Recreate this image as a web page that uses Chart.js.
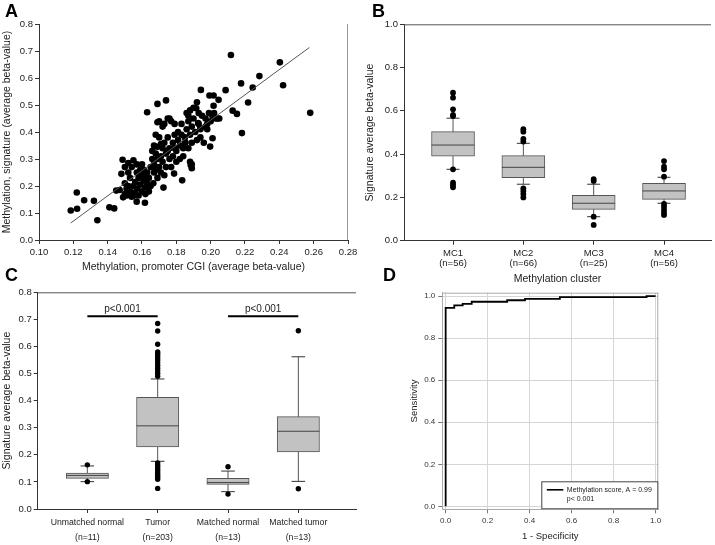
<!DOCTYPE html>
<html>
<head>
<meta charset="utf-8">
<script src="https://cdn.jsdelivr.net/npm/chart.js@4.4.1/dist/chart.umd.min.js"></script>
<style>
  html, body { margin: 0; padding: 0; background: #fff; }
  #fig { position: relative; width: 715px; height: 545px; overflow: hidden; }
  #fig canvas { position: absolute; }
  .lbl { position: absolute; font: bold 18px "Liberation Sans", Arial, sans-serif; line-height: 1; color: #000; }
</style>
</head>
<body>
<div id="fig">
  <canvas id="cA" width="360" height="275" style="left:0;top:0"></canvas>
  <canvas id="cB" width="360" height="290" style="left:355px;top:0"></canvas>
  <canvas id="cC" width="360" height="285" style="left:0;top:260px"></canvas>
  <canvas id="cD" width="360" height="285" style="left:355px;top:260px"></canvas>
  <div class="lbl" style="left:5px;top:1.5px">A</div>
  <div class="lbl" style="left:372px;top:1.5px">B</div>
  <div class="lbl" style="left:5px;top:266px">C</div>
  <div class="lbl" style="left:383px;top:266px">D</div>
</div>
<script>
// ── A: promoter CGI vs signature methylation ──
const scatterPts = [
  [0.1185,0.109],[0.122,0.176],[0.1222,0.116],[0.1263,0.147],[0.132,0.145],[0.134,0.073],
  [0.141,0.121],[0.1438,0.117],[0.145,0.183],[0.1487,0.297],[0.163,0.473],[0.169,0.504],
  [0.174,0.517],[0.169,0.436],[0.1943,0.556],[0.1993,0.535],[0.2017,0.535],[0.2087,0.555],
  [0.2118,0.685],[0.2128,0.479],[0.2153,0.467],[0.2177,0.58],[0.2182,0.396],[0.2218,0.509],
  [0.2245,0.565],[0.2284,0.607],[0.2403,0.658],[0.2422,0.573],[0.258,0.471],[0.2046,0.519],
  [0.2017,0.497],[0.2011,0.377],[0.1997,0.346],[0.1834,0.221],[0.1725,0.194],[0.1787,0.246],
  [0.1884,0.278],[0.189,0.266],[0.1569,0.142],[0.1617,0.138],[0.1666,0.21],
  [0.148,0.245],[0.150,0.21],[0.150,0.17],[0.151,0.19],[0.151,0.165],[0.152,0.2],[0.152,0.285],
  [0.153,0.18],[0.153,0.23],[0.154,0.27],[0.154,0.16],[0.155,0.2],[0.155,0.295],[0.156,0.215],
  [0.156,0.175],[0.157,0.25],[0.157,0.19],[0.158,0.165],[0.158,0.23],[0.159,0.26],[0.159,0.205],
  [0.160,0.18],[0.160,0.24],[0.161,0.22],[0.161,0.26],[0.162,0.195],[0.162,0.17],[0.163,0.25],
  [0.163,0.21],[0.164,0.18],[0.164,0.23],[0.165,0.27],[0.165,0.2],[0.152,0.25],[0.150,0.27],
  [0.157,0.28],[0.160,0.28],[0.155,0.165],[0.162,0.235],[0.147,0.185],[0.149,0.158],
  [0.166,0.3],[0.166,0.33],[0.167,0.28],[0.167,0.25],[0.168,0.32],[0.168,0.26],[0.169,0.3],
  [0.169,0.345],[0.170,0.27],[0.170,0.38],[0.171,0.31],[0.171,0.25],[0.172,0.34],[0.172,0.29],
  [0.173,0.43],[0.173,0.36],[0.174,0.27],[0.174,0.32],[0.175,0.45],[0.175,0.38],[0.176,0.3],
  [0.176,0.34],[0.177,0.44],[0.177,0.27],[0.178,0.36],[0.178,0.31],[0.179,0.39],[0.179,0.43],
  [0.180,0.33],[0.180,0.29],[0.181,0.37],[0.181,0.4],[0.182,0.35],[0.182,0.3],[0.183,0.39],
  [0.183,0.43],[0.184,0.34],[0.184,0.31],[0.185,0.38],[0.185,0.36],[0.168,0.39],[0.170,0.44],
  [0.172,0.42],[0.176,0.45],[0.169,0.23],[0.173,0.24],[0.167,0.35],[0.171,0.355],[0.175,0.33],
  [0.179,0.34],[0.186,0.41],[0.186,0.47],[0.187,0.44],[0.187,0.34],[0.188,0.48],[0.188,0.39],
  [0.189,0.42],[0.189,0.36],[0.190,0.49],[0.190,0.45],[0.191,0.4],[0.192,0.51],[0.192,0.37],
  [0.193,0.47],[0.193,0.43],[0.194,0.38],[0.195,0.46],[0.196,0.36],[0.197,0.42],[0.197,0.45],
  [0.198,0.41],[0.199,0.47],[0.200,0.44],[0.201,0.46],[0.203,0.45],[0.202,0.47],[0.204,0.45],
  [0.205,0.45],[0.188,0.29],[0.189,0.28],[0.187,0.46],[0.194,0.41],[0.198,0.43],[0.1853,0.361],
  [0.194,0.414],[0.1927,0.433],[0.1916,0.488]
];
const fitX = [0.1185, 0.2575];
const fitY = [0.063, 0.713];
const ticksAx = [0.10,0.12,0.14,0.16,0.18,0.20,0.22,0.24,0.26,0.28];
const ticksAy = [0,0.1,0.2,0.3,0.4,0.5,0.6,0.7,0.8];

// ── B: methylation clusters ──
const mcLabels = [['MC1','(n=56)'],['MC2','(n=66)'],['MC3','(n=25)'],['MC4','(n=56)']];
const mcQ1  = [0.391, 0.291, 0.145, 0.191];
const mcMed = [0.442, 0.339, 0.173, 0.230];
const mcQ3  = [0.504, 0.393, 0.210, 0.265];
const mcLo  = [0.330, 0.261, 0.111, 0.173];
const mcHi  = [0.566, 0.450, 0.261, 0.293];
const mcOut = [
  [0.684,0.661,0.607,0.581,0.576,0.330,0.268,0.258,0.247],
  [0.515,0.504,0.470,0.458,0.242,0.230,0.216,0.200],
  [0.285,0.276,0.111,0.073],
  [0.368,0.342,0.330,0.296,0.170,0.157,0.142,0.129,0.119]
];
const ticksBy = [0,0.2,0.4,0.6,0.8,1.0];

// ── C: normal vs tumor ──
const grpLabels = [['Unmatched normal','','(n=11)'],['Tumor','','(n=203)'],['Matched normal','','(n=13)'],['Matched tumor','','(n=13)']];
const grpQ1  = [0.113, 0.229, 0.091, 0.211];
const grpMed = [0.124, 0.307, 0.098, 0.287];
const grpQ3  = [0.133, 0.412, 0.113, 0.341];
const grpLo  = [0.101, 0.176, 0.064, 0.102];
const grpHi  = [0.159, 0.480, 0.140, 0.562];
const grpOut = [
  [0.163,0.101],
  [0.685,0.657,0.608,0.580,0.573,0.566,0.558,0.550,0.540,0.530,0.520,0.510,0.500,0.490,
   0.170,0.162,0.155,0.147,0.140,0.132,0.124,0.117,0.110,0.076],
  [0.156,0.055],
  [0.658,0.075]
];
const sigPairs = [[1,2],[3,4]];
const sigLevel = 0.712;
const ticksCy = [0,0.1,0.2,0.3,0.4,0.5,0.6,0.7,0.8];

// ── D: ROC ──
const rocFpr = [0,0,0.041,0.041,0.081,0.081,0.124,0.124,0.293,0.293,0.378,0.378,0.544,0.544,0.957,0.957,1.0];
const rocTpr = [0,0.944,0.944,0.956,0.956,0.963,0.963,0.973,0.973,0.98,0.98,0.987,0.987,0.995,0.995,1.0,1.0];
const ticksD = [0,0.2,0.4,0.6,0.8,1.0];

const FONT = '"Liberation Sans", Arial, sans-serif';
const TXT = '#222';

const framePlugin = {
  id: 'frame',
  afterDraw(chart, args, opts) {
    const { ctx, chartArea: a } = chart;
    ctx.save();
    ctx.strokeStyle = opts.color || '#333';
    ctx.lineWidth = 1;
    ctx.beginPath();
    (opts.sides || []).forEach(s => {
      if (s === 'top')   { ctx.moveTo(a.left, a.top + 0.5); ctx.lineTo(a.right, a.top + 0.5); }
      if (s === 'right') { ctx.moveTo(a.right - 0.5, a.top); ctx.lineTo(a.right - 0.5, a.bottom); }
    });
    ctx.stroke();
    ctx.restore();
  }
};

const notesPlugin = {
  id: 'notes',
  afterDraw(chart, args, opts) {
    const { ctx, chartArea: a, scales } = chart;
    (opts.items || []).forEach(it => {
      ctx.save();
      ctx.font = it.font;
      ctx.fillStyle = it.color || TXT;
      ctx.textAlign = it.align || 'left';
      ctx.textBaseline = 'middle';
      let x, y;
      if (it.at) { x = scales.x.getPixelForValue(it.at[0]); y = scales.y.getPixelForValue(it.at[1]) + (it.dy || 0); }
      else { x = a.left + it.dx; y = a.top + it.dy; }
      ctx.fillText(it.text, x, y);
      ctx.restore();
    });
  }
};

const rocLegend = {
  id: 'rocLegend',
  afterDraw(chart) {
    const { ctx, chartArea: a } = chart;
    ctx.save();
    ctx.fillStyle = '#fff';
    ctx.strokeStyle = '#444';
    ctx.lineWidth = 1;
    ctx.fillRect(a.right - 117, a.bottom - 28, 117, 28);
    ctx.strokeRect(a.right - 117 + 0.5, a.bottom - 28 + 0.5, 116, 27);
    ctx.strokeStyle = '#000';
    ctx.lineWidth = 1.6;
    ctx.beginPath();
    ctx.moveTo(a.right - 111.5, a.bottom - 19.5);
    ctx.lineTo(a.right - 95, a.bottom - 19.5);
    ctx.stroke();
    ctx.fillStyle = TXT;
    ctx.font = '7px ' + FONT;
    ctx.textBaseline = 'middle';
    ctx.fillText('Methylation score, A = 0.99', a.right - 91.5, a.bottom - 19.5);
    ctx.fillText('p< 0.001', a.right - 91.5, a.bottom - 10.5);
    ctx.restore();
  }
};

function fixedTicks(list) {
  return s => { s.ticks = list.map(v => ({ value: v })); };
}

function boxSets(pos, q1, med, q3, lo, hi, out, cfg) {
  const whisk = [];
  pos.forEach((x, i) => { whisk.push({ x, y: lo[i] }, { x, y: hi[i] }, { x, y: null }); });
  const outPts = [];
  out.forEach((arr, i) => arr.forEach(v => outPts.push({ x: pos[i], y: v })));
  return [
    { type: 'line', data: whisk, borderColor: '#555', borderWidth: 1, pointRadius: 0, spanGaps: false, order: 4 },
    { type: 'bar', data: pos.map((x, i) => ({ x, y: [q1[i], q3[i]] })), backgroundColor: '#c2c2c2',
      borderColor: '#555', borderWidth: 1, borderSkipped: false, barThickness: cfg.boxW, grouped: false, order: 3 },
    { type: 'line', showLine: false, data: pos.flatMap((x, i) => [{ x, y: lo[i] }, { x, y: hi[i] }]),
      pointStyle: 'line', pointRadius: cfg.capR, pointBorderColor: '#333', pointBorderWidth: 1, order: 2 },
    { type: 'line', showLine: false, data: pos.map((x, i) => ({ x, y: med[i] })),
      pointStyle: 'line', pointRadius: cfg.boxW / 2, pointBorderColor: '#444', pointBorderWidth: 1, order: 1 },
    { type: 'line', showLine: false, data: outPts, pointRadius: cfg.dotR,
      pointBackgroundColor: '#000', pointBorderWidth: 0, order: 0 }
  ];
}

function axis(o) {
  const sc = {
    type: 'linear', min: o.min, max: o.max, offset: false,
    afterBuildTicks: fixedTicks(o.ticks),
    ticks: { autoSkip: false, maxRotation: 0, color: o.tickColor || TXT, padding: o.pad == null ? 3 : o.pad,
             font: { family: FONT, size: o.size || 9.5, lineHeight: o.lh || 1.1 },
             callback: o.cb },
    grid: { display: true, offset: false, drawOnChartArea: !!o.gridOn, color: o.gridColor || '#333',
            tickColor: o.tickMark || '#333', tickLength: 4 },
    border: { display: true, color: o.borderColor || '#333', width: 1 },
    afterFit: s => {
      s.paddingLeft = 0; s.paddingRight = 0; s.paddingTop = 0; s.paddingBottom = 0;
      o.fit(s);
    }
  };
  if (o.title) sc.title = { display: true, text: o.title, color: TXT, font: { family: FONT, size: o.tsize || 10.5 }, padding: o.tpad };
  return sc;
}

// autoPadding off: the long median "points" would otherwise shrink the plot area
const base = (pad, extra) => ({
  responsive: false, animation: false, events: [],
  layout: { padding: pad, autoPadding: false },
  plugins: Object.assign({ legend: { display: false }, tooltip: { enabled: false } }, extra)
});

// A
new Chart(document.getElementById('cA'), {
  type: 'scatter',
  data: { datasets: [
    { data: scatterPts.map(p => ({ x: p[0], y: p[1] })), pointRadius: 3.3, pointBackgroundColor: '#000', pointBorderWidth: 0, order: 1 },
    { type: 'line', data: fitX.map((x, i) => ({ x, y: fitY[i] })), borderColor: '#555', borderWidth: 1, pointRadius: 0, order: 0 }
  ]},
  options: Object.assign(base({ top: 24, right: 12, left: 0, bottom: 0 }, {
    frame: { sides: ['right'], color: '#999' },
    notes: { items: [
      { text: 'Pearson r=0.83, p<0.001', dx: 3.7, dy: 9.3, font: '10px ' + FONT },
      { text: 'y=4.6741x-0.4908', dx: 3.7, dy: 23.7, font: '10px ' + FONT }
    ]}
  }), {
    scales: {
      x: axis({ min: 0.10, max: 0.28, ticks: ticksAx, cb: v => v.toFixed(2),
                title: 'Methylation, promoter CGI (average beta-value)', tpad: { top: 0, bottom: 2 },
                fit: s => { s.height = 35; } }),
      y: axis({ min: 0, max: 0.8, ticks: ticksAy, cb: v => v.toFixed(1), pad: 2,
                title: 'Methylation, signature (average beta-value)', tpad: { top: 1, bottom: 0 },
                fit: s => { s.width = 39; } })
    }
  }),
  plugins: [framePlugin, notesPlugin]
});

// B
new Chart(document.getElementById('cB'), {
  type: 'scatter',
  data: { datasets: boxSets([1, 2, 3, 4], mcQ1, mcMed, mcQ3, mcLo, mcHi, mcOut, { boxW: 43, capR: 6.5, dotR: 2.9 }) },
  options: Object.assign(base({ top: 24.3, right: 4, left: 0, bottom: 0 }, {
    frame: { sides: ['top'], color: '#555' },
    notes: { items: [
      { text: 'p<0.05 for all pairwise comparisons', dx: 141, dy: 15.7, font: '10px ' + FONT },
      { text: 'except MC3 vs. MC4', dx: 141, dy: 27.4, font: '10px ' + FONT }
    ]}
  }), {
    scales: {
      x: axis({ min: 0.303, max: 4.668, ticks: [1, 2, 3, 4], cb: v => mcLabels[v - 1],
                title: 'Methylation cluster', tpad: { top: 0, bottom: 4.5 },
                fit: s => { s.height = 49.3; } }),
      y: axis({ min: 0, max: 1, ticks: ticksBy, cb: v => v.toFixed(1), pad: 2,
                title: 'Signature average beta-value', tpad: { top: 8.7, bottom: 0 },
                fit: s => { s.width = 49; } })
    }
  }),
  plugins: [framePlugin, notesPlugin]
});

// C
const sigLine = [];
sigPairs.forEach(p => { sigLine.push({ x: p[0], y: sigLevel }, { x: p[1], y: sigLevel }, { x: p[1], y: null }); });
new Chart(document.getElementById('cC'), {
  type: 'scatter',
  data: { datasets: boxSets([1, 2, 3, 4], grpQ1, grpMed, grpQ3, grpLo, grpHi, grpOut, { boxW: 42.3, capR: 6.8, dotR: 2.7 })
    .concat([{ type: 'line', data: sigLine, borderColor: '#000', borderWidth: 2, pointRadius: 0, spanGaps: false, order: 0 }]) },
  options: Object.assign(base({ top: 32.3, right: 4, left: 0, bottom: 0 }, {
    frame: { sides: ['top'], color: '#555' },
    notes: { items: sigPairs.map(p => ({ text: 'p<0.001', at: [(p[0] + p[1]) / 2, sigLevel], dy: -6.5, align: 'center', font: '10px ' + FONT })) }
  }), {
    scales: {
      x: axis({ min: 0.294, max: 4.82, ticks: [1, 2, 3, 4], cb: v => grpLabels[v - 1], size: 8.7, lh: 0.88, pad: 5.5,
                fit: s => { s.height = 36; } }),
      y: axis({ min: 0, max: 0.8, ticks: ticksCy, cb: v => v.toFixed(1), pad: 2,
                title: 'Signature average beta-value', tpad: { top: 1, bottom: 0 },
                fit: s => { s.width = 37.7; } })
    }
  }),
  plugins: [framePlugin, notesPlugin]
});

// D
new Chart(document.getElementById('cD'), {
  type: 'line',
  data: { datasets: [
    { data: rocFpr.map((x, i) => ({ x, y: rocTpr[i] })), borderColor: '#000', borderWidth: 1.8, pointRadius: 0, tension: 0 }
  ]},
  options: Object.assign(base({ top: 32.7, right: 56.7, left: 0, bottom: 0 }, {
    frame: { sides: ['top', 'right'], color: '#aaa' }
  }), {
    scales: {
      x: axis({ min: -0.016, max: 1.013, ticks: ticksD, cb: v => v.toFixed(1), size: 8, gridOn: true,
                gridColor: '#d6d6d6', tickMark: '#777', borderColor: '#aaa', tickColor: '#333',
                title: '1 - Specificity', tsize: 9.5, tpad: { top: 0, bottom: 2.6 },
                fit: s => { s.height = 35.7; } }),
      y: axis({ min: -0.014, max: 1.016, ticks: ticksD, cb: v => v.toFixed(1), size: 8, gridOn: true, pad: 3,
                gridColor: '#d6d6d6', tickMark: '#777', borderColor: '#aaa', tickColor: '#333',
                title: 'Sensitivity', tsize: 9.5, tpad: { top: 53.3, bottom: 0 },
                fit: s => { s.width = 87.3; } })
    }
  }),
  plugins: [framePlugin, rocLegend]
});
</script>
</body>
</html>
